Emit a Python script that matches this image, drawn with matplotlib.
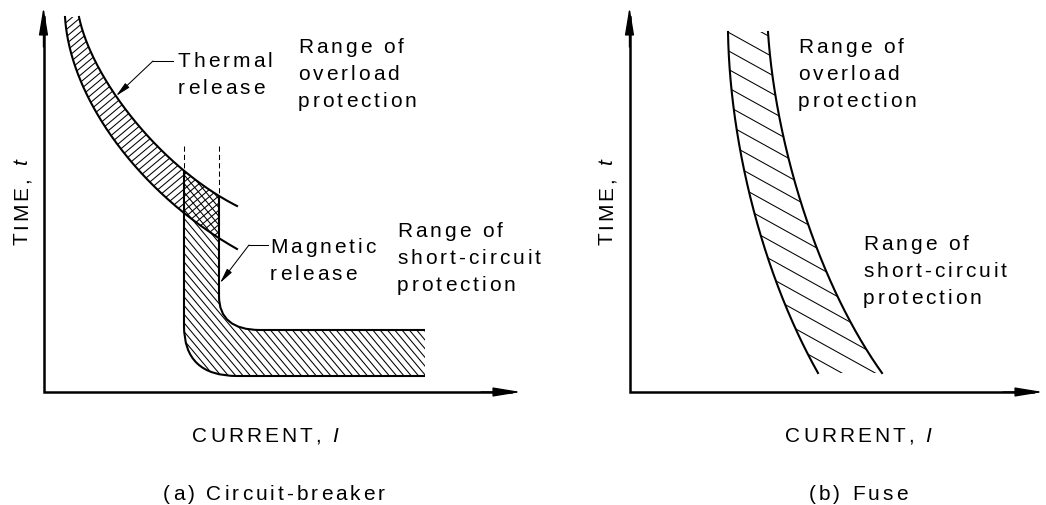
import numpy as np
import matplotlib
matplotlib.use("Agg")
import matplotlib.pyplot as plt
from matplotlib.path import Path
from matplotlib.patches import PathPatch
from matplotlib.collections import LineCollection
from matplotlib.bezier import BezierSegment
from matplotlib.font_manager import FontProperties, findfont, get_font

W, H, DPI = 1046, 506, 100
FONT = "Liberation Sans"
TEXT_PT = 15
TRACK = 3.0          # extra letter spacing, px

# (a) circuit-breaker -- sketch units, y grows downwards
CB_ORIGIN = (43.5, 393)
CB_X_TIP = 521
CB_Y_TIP = 8
THERMAL_UPPER = [(79, 18), (92, 80), (160, 168), (237, 207)]
THERMAL_LOWER = [(65, 18), (70, 100), (140, 195), (237, 250)]
MAG_X = (184, 219)          # magnetic trip band, left / right edge
MAG_DASH_TOP = 147
MAG_BOTTOM = [(184, 327), (184, 377), (237, 377), (425, 377)]
MAG_TOP = [(219, 297), (219, 331), (260, 331), (425, 331)]

# (b) fuse
FUSE_ORIGIN = (629.5, 393)
FUSE_X_TIP = 1043
FUSE_Y_TIP = 8
FUSE_LEFT = [(728, 33), (730, 150), (765, 280), (818, 374)]
FUSE_RIGHT = [(768, 33), (775, 140), (815, 280), (882, 374)]

OVERLOAD_TXT = ["Range of", "overload", "protection"]
SHORT_TXT = ["Range of", "short-circuit", "protection"]
THERMAL_TXT = ["Thermal", "release"]
MAGNETIC_TXT = ["Magnetic", "release"]

LW_AXIS, LW_CURVE, LW_THIN = 1.8, 1.5, 0.75


def advance(c, style):
    fp = FontProperties(family=FONT, style=style, size=TEXT_PT)
    font = get_font(findfont(fp))
    font.set_size(TEXT_PT, 72)
    g = font.load_char(ord(c))
    return g.linearHoriAdvance / 65536 * DPI / 72


def spaced_text(ax, x, y, parts, ha="left", rotation=0):
    """Letter-spaced text; parts is a list of (string, style)."""
    chars = [(c, st) for s, st in parts for c in s]
    advs = [advance(c, st) for c, st in chars]
    total = sum(advs) + TRACK * (len(chars) - 1)
    pos = {"left": 0, "center": -total / 2, "right": -total}[ha]
    for (c, st), a in zip(chars, advs):
        fp = FontProperties(family=FONT, style=st, size=TEXT_PT)
        if rotation == 90:
            ax.text(x, y - pos, c, fontproperties=fp, rotation=90,
                    rotation_mode="anchor", ha="left", va="baseline")
        else:
            ax.text(x + pos, y, c, fontproperties=fp,
                    ha="left", va="baseline")
        pos += a + TRACK


def text_block(ax, x, y0, lines, step=27):
    for i, s in enumerate(lines):
        spaced_text(ax, x, y0 + i * step, [(s, "normal")])


def bez(ctrl, n=300):
    return BezierSegment(np.asarray(ctrl, float))(np.linspace(0, 1, n))


def hatch(ax, path, angle, spacing, lw=LW_THIN):
    a = np.radians(angle)
    d = np.array([np.cos(a), -np.sin(a)])     # screen angle, y down
    nrm = np.array([-d[1], d[0]])
    v = path.vertices
    p, q = v @ nrm, v @ d
    segs = []
    for k in np.arange(np.floor(p.min() / spacing), np.ceil(p.max() / spacing) + 1):
        o = k * spacing * nrm
        segs.append([o + (q.min() - 5) * d, o + (q.max() + 5) * d])
    clip = PathPatch(path, transform=ax.transData, fc="none", ec="none")
    ax.add_patch(clip)
    lc = LineCollection(segs, colors="k", linewidths=lw)
    ax.add_collection(lc)
    lc.set_clip_path(clip)


def axes_arrows(ax, origin, x_tip, y_tip):
    x0, y0 = origin
    ax.plot([x0, x0, x_tip - 10], [y_tip + 10, y0, y0], color="k",
            lw=LW_AXIS, solid_joinstyle="miter")
    style = "-|>,head_length=1.7,head_width=0.28"
    for tip, tail in [((x0, y_tip), (x0, y_tip + 40)), ((x_tip, y0), (x_tip - 40, y0))]:
        ax.annotate("", xy=tip, xytext=tail,
                    arrowprops=dict(arrowstyle=style, color="k", lw=1.0,
                                    shrinkA=0, shrinkB=0))


def leader(ax, start, elbow, tip):
    ax.plot([start[0], elbow[0]], [start[1], elbow[1]], color="k", lw=LW_THIN)
    ax.annotate("", xy=tip, xytext=elbow,
                arrowprops=dict(arrowstyle="-|>,head_length=0.9,head_width=0.18",
                                color="k", lw=LW_THIN, shrinkA=0, shrinkB=0))


fig = plt.figure(figsize=(W / DPI, H / DPI), dpi=DPI)
ax = fig.add_axes([0, 0, 1, 1])
ax.set_xlim(0, W)
ax.set_ylim(H, 0)
ax.axis("off")

# ---------------- (a) circuit-breaker ----------------
up = bez(THERMAL_UPPER)
lo = bez(THERMAL_LOWER)
xl_, xr_ = MAG_X
yu_l = np.interp(xl_, up[:, 0], up[:, 1])
yu_r = np.interp(xr_, up[:, 0], up[:, 1])
yl_r = np.interp(xr_, lo[:, 0], lo[:, 1])

# thermal band, hatched only up to the right magnetic edge
up_part = np.vstack([up[up[:, 0] <= xr_], [(xr_, yu_r)]])
lo_part = np.vstack([lo[lo[:, 0] <= xr_], [(xr_, yl_r)]])
thermal_poly = np.vstack([up_part, lo_part[::-1], up_part[:1]])
hatch(ax, Path(thermal_poly, closed=True), 40, 5.5)

# magnetic band
arc = up[(up[:, 0] > xl_) & (up[:, 0] < xr_)][::-1]
mv = [(xl_, yu_l)] + MAG_BOTTOM + MAG_TOP[::-1] + [(xr_, yu_r)] + list(map(tuple, arc)) + [(xl_, yu_l)]
mc = ([Path.MOVETO, Path.LINETO, Path.CURVE3, Path.CURVE3, Path.LINETO,
       Path.LINETO, Path.LINETO, Path.CURVE3, Path.CURVE3, Path.LINETO]
      + [Path.LINETO] * len(arc) + [Path.CLOSEPOLY])
hatch(ax, Path(mv, mc), -50, 5.6)

ax.plot(up[:, 0], up[:, 1], color="k", lw=LW_CURVE)
ax.plot(lo[:, 0], lo[:, 1], color="k", lw=LW_CURVE)
edge_codes = [Path.MOVETO, Path.LINETO, Path.CURVE3, Path.CURVE3, Path.LINETO]
for top_y, pts in [(yu_l, MAG_BOTTOM), (yu_r, MAG_TOP)]:
    verts = [(pts[0][0], top_y)] + pts
    ax.add_patch(PathPatch(Path(verts, edge_codes), fill=False, ec="k",
                           lw=LW_CURVE, capstyle="butt"))
for x, y_end in [(xl_, yu_l), (xr_, yu_r)]:
    ax.plot([x, x], [MAG_DASH_TOP, y_end], color="k", lw=LW_THIN,
            ls=(0, (5, 3)))

axes_arrows(ax, CB_ORIGIN, CB_X_TIP, CB_Y_TIP)

leader(ax, (173, 62), (153, 62), (116, 97))
leader(ax, (268, 246), (249, 246), (220, 284))
text_block(ax, 178, 67, THERMAL_TXT)
text_block(ax, 270, 253, MAGNETIC_TXT)
text_block(ax, 298, 53, OVERLOAD_TXT)
text_block(ax, 397, 237, SHORT_TXT)

spaced_text(ax, 27.5, 202, [("TIME, ", "normal"), ("t", "italic")],
            ha="center", rotation=90)
spaced_text(ax, 265, 442, [("CURRENT, ", "normal"), ("I", "italic")], ha="center")
spaced_text(ax, 274, 500, [("(a) Circuit-breaker", "normal")], ha="center")

# ---------------- (b) fuse ----------------
fl = bez(FUSE_LEFT)
fr = bez(FUSE_RIGHT)
fuse_poly = np.vstack([fl, fr[::-1], fl[:1]])
hatch(ax, Path(fuse_poly, closed=True), -29, 16.2)
ax.plot(fl[:, 0], fl[:, 1], color="k", lw=LW_CURVE)
ax.plot(fr[:, 0], fr[:, 1], color="k", lw=LW_CURVE)

axes_arrows(ax, FUSE_ORIGIN, FUSE_X_TIP, FUSE_Y_TIP)

text_block(ax, 798, 53, OVERLOAD_TXT)
text_block(ax, 863, 250, SHORT_TXT)
spaced_text(ax, 612.5, 202, [("TIME, ", "normal"), ("t", "italic")],
            ha="center", rotation=90)
spaced_text(ax, 858, 442, [("CURRENT, ", "normal"), ("I", "italic")], ha="center")
spaced_text(ax, 858, 500, [("(b) Fuse", "normal")], ha="center")

fig.savefig("out.png", dpi=DPI, facecolor="white")
